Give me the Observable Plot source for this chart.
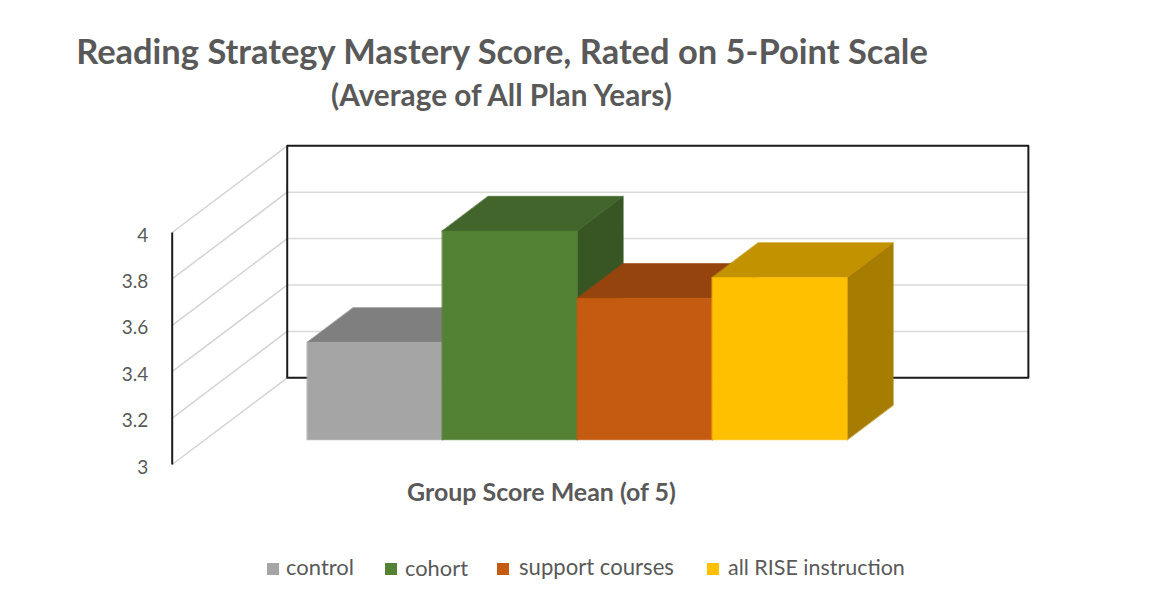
<!DOCTYPE html>
<html>
<head>
<meta charset="utf-8">
<script src="https://cdn.jsdelivr.net/npm/d3@7"></script>
<script src="https://cdn.jsdelivr.net/npm/@observablehq/plot@0.6"></script>
<style>
  html, body { margin: 0; padding: 0; background: #fff; }
  #wrap { position: relative; width: 1155px; height: 606px; overflow: hidden;
          font-family: Lato, "Open Sans", sans-serif; color: #595959; }
  .t { position: absolute; white-space: nowrap; line-height: 1; }
  .b { font-weight: 700; }
  .sw { position: absolute; width: 12px; height: 12px; }
  #chart { position: absolute; left: 0; top: 125px; }
</style>
</head>
<body>
<div id="wrap"></div>
<script>
// ---------- data ----------
const categories = ["control", "cohort", "support courses", "all RISE instruction"];
const values = [3.42, 3.90, 3.61, 3.70];
const yTicks = [3, 3.2, 3.4, 3.6, 3.8, 4];
const yTickLabels = ["3", "3.2", "3.4", "3.6", "3.8", "4"];
const titleText = "Reading Strategy Mastery Score, Rated on 5-Point Scale";
const subtitleText = "(Average of All Plan Years)";
const xTitleText = "Group Score Mean (of 5)";

// ---------- styles ----------
const frontColors = ["#A5A5A5", "#548235", "#C55A11", "#FFC000"];
const topColors   = ["#7F7F7F", "#41652A", "#96440D", "#C29200"];
const sideColors  = ["#6E6E6E", "#375623", "#80390B", "#A67D00"];

// ---------- oblique projection (world x, depth d, value v) ----------
const BASE = 3, DX = 0.852, DV = 0.3737;
const XL = -1.0, XR = 4.49;      // floor extent (world x)
const D0 = 0.285, D1 = 0.685;    // bar depth range
const BX = -D0 * DX;             // bar world offset
const P = (x, d, v) => ({x: x + d * DX, y: v + d * DV});

const facePts = [];
values.forEach((v, i) => {
  const x0 = i + BX, x1 = x0 + 1;
  const faces = [
    ["side", sideColors[i], [P(x1, D0, BASE), P(x1, D0, v), P(x1, D1, v), P(x1, D1, BASE)]],
    ["top", topColors[i], [P(x0, D0, v), P(x1, D0, v), P(x1, D1, v), P(x0, D1, v)]],
    ["front", frontColors[i], [P(x0, D0, BASE), P(x1, D0, BASE), P(x1, D0, v), P(x0, D0, v)]]
  ];
  for (const [name, color, pts] of faces)
    for (const p of pts) facePts.push({...p, id: categories[i] + "-" + name, color});
});

const innerTicks = yTicks.filter(t => t > BASE && t < d3.max(yTicks));
const vTop = d3.max(yTicks);
const wallPts = [P(XL, 1, BASE), P(XR, 1, BASE), P(XR, 1, vTop), P(XL, 1, vTop)];

const chart = Plot.plot({
  width: 1155,
  height: 400,
  margin: 0,
  x: {domain: [0, 4], range: [306.7, 846.7], axis: null},
  y: {domain: [3, 4], range: [339, 107], axis: null},
  color: {type: "identity"},
  style: {fontFamily: "Lato, 'Open Sans', sans-serif", background: "transparent", overflow: "visible"},
  marks: [
    // side wall diagonals
    Plot.link(yTicks, {x1: () => XL, y1: t => t, x2: () => XL + DX, y2: t => t + DV,
      stroke: "#D3D3D3", strokeWidth: 1.5}),
    // back wall gridlines
    Plot.link(innerTicks, {x1: () => XL + DX, x2: () => XR + DX, y1: t => t + DV, y2: t => t + DV,
      stroke: "#D9D9D9", strokeWidth: 1.5}),
    // back wall frame
    Plot.line(wallPts, {x: "x", y: "y", curve: "linear-closed", stroke: "#1a1a1a", strokeWidth: 2}),
    // front vertical axis
    Plot.link([0], {x1: () => XL, x2: () => XL, y1: () => BASE, y2: () => vTop,
      stroke: "#1a1a1a", strokeWidth: 2}),
    // bars
    Plot.line(facePts, {x: "x", y: "y", z: "id", fill: "color", stroke: "color",
      strokeWidth: 0.6, curve: "linear-closed"}),
    // tick labels
    Plot.text(yTicks, {x: () => XL, y: t => t, text: (t, i) => yTickLabels[i],
      textAnchor: "end", dx: -24, dy: 3, fontSize: 19, fill: "#595959"})
  ]
});
chart.id = "chart";

const wrap = document.getElementById("wrap");
wrap.appendChild(chart);

// ---------- html text ----------
const ASC = 0.887; // Lato baseline offset at line-height 1
function addText(txt, cls, size, baseline, {center, left, width}) {
  const el = document.createElement("div");
  el.className = "t " + cls;
  el.textContent = txt;
  el.style.fontSize = size + "px";
  wrap.appendChild(el);
  if (width) {
    const w = el.getBoundingClientRect().width;
    size = size * width / w;
    el.style.fontSize = size + "px";
  }
  const w2 = el.getBoundingClientRect().width;
  el.style.top = (baseline - ASC * size) + "px";
  el.style.left = (center != null ? center - w2 / 2 : left) + "px";
  return el;
}
addText(titleText, "b", 30, 65, {center: 502, width: 852});
addText(subtitleText, "b", 23, 106, {center: 501.5, width: 341});
addText(xTitleText, "b", 19, 501.5, {center: 541.5, width: 269});

// legend
const legSw = [267, 385, 497, 707];
const legTx = [286, 405, 519, 728];
const legW = [68, 63, 155, 177];
categories.forEach((c, i) => {
  const s = document.createElement("div");
  s.className = "sw";
  s.style.left = legSw[i] + "px";
  s.style.top = "563px";
  s.style.background = frontColors[i];
  wrap.appendChild(s);
  addText(c, "", 19, 576, {left: legTx[i], width: legW[i]});
});
</script>
</body>
</html>
